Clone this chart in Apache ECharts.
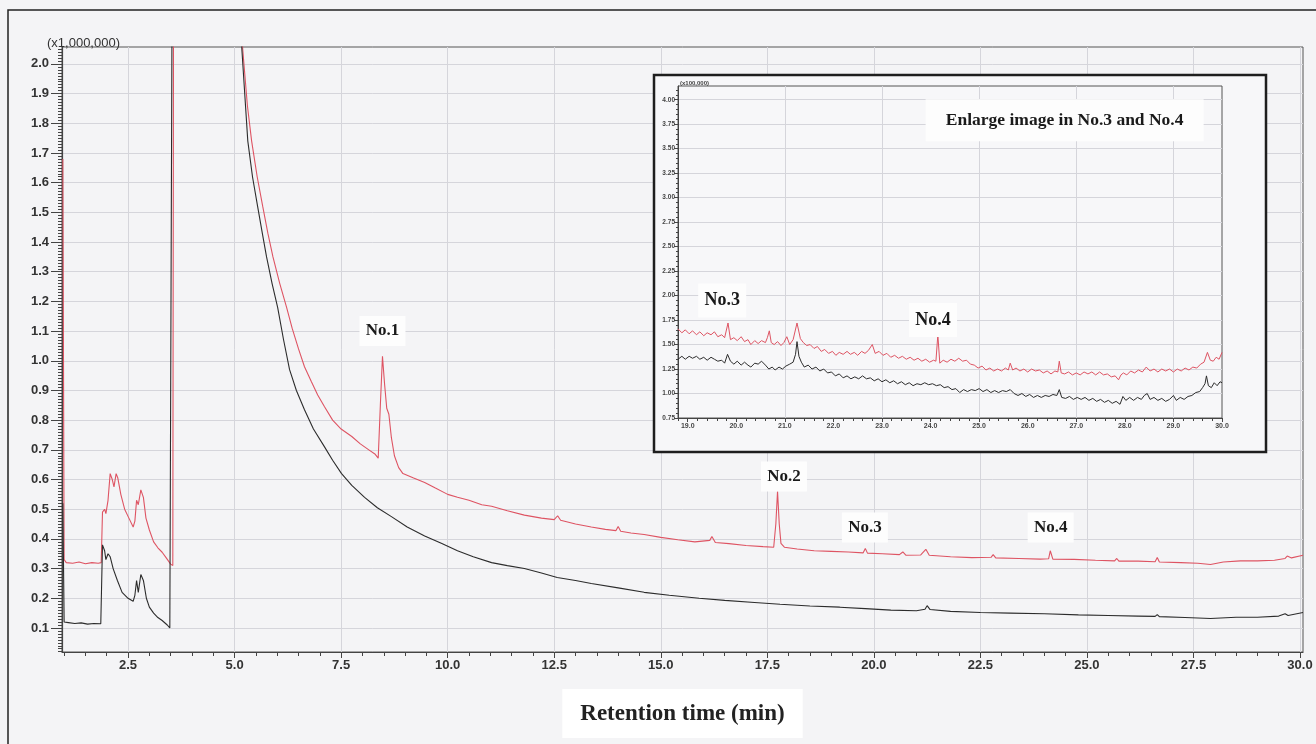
<!DOCTYPE html>
<html>
<head>
<meta charset="utf-8">
<title>Chromatogram</title>
<script src="https://cdn.jsdelivr.net/npm/echarts@6/dist/echarts.min.js"></script>
<style>
  html, body { margin: 0; padding: 0; background: #f4f4f6; }
  #chart { width: 1316px; height: 744px; }
</style>
</head>
<body>
<div id="chart"></div>
<script>
// main trace: retention time (min), intensity (x1,000,000)
const redTrace = [
  [0.97,1.68],[1.0,0.33],[1.05,0.32],[1.2,0.318],[1.35,0.322],[1.5,0.316],[1.65,0.32],[1.8,0.318],[1.87,0.32],
  [1.9,0.49],[1.95,0.50],[1.98,0.485],[2.03,0.53],[2.08,0.62],[2.13,0.60],[2.17,0.575],[2.22,0.62],[2.26,0.605],
  [2.33,0.55],[2.42,0.50],[2.52,0.47],[2.62,0.44],[2.66,0.46],[2.7,0.53],[2.74,0.515],[2.8,0.565],[2.86,0.54],
  [2.92,0.47],[3.0,0.43],[3.1,0.39],[3.2,0.37],[3.3,0.355],[3.4,0.335],[3.5,0.315],[3.55,0.31],[3.57,2.5],
  [5.05,2.5],[5.19,2.05],[5.3,1.86],[5.4,1.74],[5.53,1.62],[5.66,1.52],[5.78,1.43],[5.9,1.35],[6.06,1.26],
  [6.22,1.18],[6.35,1.11],[6.5,1.04],[6.64,0.98],[6.8,0.93],[6.95,0.885],[7.11,0.845],[7.3,0.80],[7.5,0.77],
  [7.75,0.745],[7.95,0.72],[8.15,0.70],[8.3,0.685],[8.37,0.672],[8.42,0.85],[8.47,1.015],[8.52,0.92],[8.57,0.84],
  [8.62,0.82],[8.68,0.74],[8.75,0.68],[8.85,0.64],[8.95,0.62],[9.2,0.605],[9.46,0.59],[9.7,0.572],[10.0,0.55],
  [10.23,0.54],[10.5,0.53],[10.8,0.515],[11.03,0.51],[11.4,0.495],[11.8,0.48],[12.2,0.47],[12.5,0.465],
  [12.58,0.478],[12.65,0.463],[13.0,0.45],[13.37,0.44],[13.7,0.432],[13.95,0.428],[14.0,0.442],[14.06,0.426],
  [14.3,0.42],[14.61,0.415],[15.0,0.405],[15.4,0.397],[15.8,0.39],[16.15,0.395],[16.2,0.408],[16.28,0.388],
  [16.6,0.384],[17.0,0.378],[17.4,0.374],[17.65,0.372],[17.7,0.45],[17.74,0.56],[17.78,0.45],[17.82,0.385],
  [17.9,0.372],[18.2,0.366],[18.6,0.36],[19.0,0.358],[19.4,0.356],[19.75,0.353],[19.8,0.368],[19.85,0.352],
  [20.2,0.35],[20.6,0.347],[20.68,0.356],[20.75,0.345],[21.1,0.346],[21.22,0.365],[21.3,0.345],[21.8,0.34],
  [22.3,0.337],[22.75,0.338],[22.8,0.347],[22.86,0.336],[23.4,0.334],[23.9,0.332],[24.1,0.333],[24.14,0.36],
  [24.2,0.332],[24.7,0.331],[25.2,0.328],[25.65,0.326],[25.7,0.334],[25.75,0.325],[26.2,0.325],[26.6,0.323],
  [26.65,0.337],[26.7,0.322],[27.2,0.32],[27.6,0.318],[27.9,0.314],[28.2,0.322],[28.6,0.326],[29.0,0.326],
  [29.4,0.328],[29.65,0.334],[29.7,0.342],[29.8,0.336],[30.07,0.345]
];
const blackTrace = [
  [0.97,0.52],[1.0,0.12],[1.1,0.118],[1.25,0.115],[1.4,0.117],[1.55,0.113],[1.7,0.115],[1.86,0.114],
  [1.9,0.38],[1.95,0.36],[1.98,0.33],[2.03,0.35],[2.08,0.34],[2.15,0.30],[2.25,0.26],[2.36,0.22],[2.5,0.20],
  [2.62,0.19],[2.66,0.21],[2.7,0.26],[2.74,0.22],[2.8,0.28],[2.86,0.26],[2.93,0.20],[3.0,0.17],[3.1,0.15],
  [3.2,0.135],[3.3,0.125],[3.42,0.11],[3.48,0.10],[3.52,0.105],[3.54,2.5],[5.05,2.5],[5.17,2.05],[5.31,1.74],
  [5.42,1.62],[5.54,1.52],[5.65,1.43],[5.75,1.35],[5.88,1.26],[6.01,1.18],[6.15,1.07],[6.29,0.97],[6.45,0.90],
  [6.64,0.835],[6.85,0.77],[7.11,0.71],[7.3,0.665],[7.51,0.62],[7.75,0.58],[8.05,0.54],[8.35,0.505],[8.68,0.475],
  [9.05,0.44],[9.46,0.41],[9.85,0.385],[10.23,0.36],[10.6,0.34],[11.03,0.32],[11.4,0.31],[11.8,0.30],[12.2,0.285],
  [12.57,0.27],[13.0,0.26],[13.37,0.25],[14.0,0.235],[14.61,0.22],[15.2,0.21],[15.9,0.20],[16.5,0.193],
  [17.2,0.186],[17.8,0.18],[18.5,0.174],[19.2,0.17],[19.8,0.165],[20.4,0.16],[21.0,0.158],[21.2,0.163],
  [21.25,0.175],[21.32,0.162],[21.8,0.156],[22.5,0.152],[23.2,0.15],[24.0,0.148],[24.8,0.144],[25.5,0.142],
  [26.2,0.14],[26.6,0.139],[26.65,0.145],[26.7,0.138],[27.3,0.135],[27.9,0.132],[28.5,0.136],[29.0,0.136],
  [29.5,0.14],[29.65,0.148],[29.72,0.142],[30.07,0.152]
];

// enlarged part 19-30 min, intensity (x100,000)
const insetRed = [
  [18.8,1.66],[18.88,1.62],[18.95,1.65],[19.03,1.61],[19.1,1.64],[19.18,1.60],[19.25,1.63],[19.33,1.59],[19.4,1.62],
  [19.48,1.60],[19.55,1.63],[19.62,1.58],[19.7,1.60],[19.76,1.57],[19.83,1.72],[19.88,1.55],[19.95,1.57],[20.02,1.54],
  [20.1,1.58],[20.17,1.53],[20.24,1.55],[20.3,1.50],[20.38,1.54],[20.45,1.51],[20.52,1.54],[20.6,1.52],[20.64,1.57],
  [20.68,1.64],[20.72,1.52],[20.78,1.50],[20.85,1.53],[20.92,1.49],[20.98,1.52],[21.04,1.58],[21.1,1.50],[21.17,1.55],
  [21.25,1.72],[21.32,1.56],[21.38,1.52],[21.45,1.49],[21.52,1.50],[21.6,1.46],[21.67,1.48],[21.75,1.43],[21.82,1.45],
  [21.9,1.41],[21.98,1.43],[22.05,1.39],[22.12,1.42],[22.2,1.40],[22.28,1.43],[22.35,1.40],[22.43,1.42],[22.5,1.39],
  [22.58,1.43],[22.65,1.41],[22.72,1.44],[22.8,1.50],[22.86,1.41],[22.94,1.43],[23.02,1.39],[23.1,1.41],[23.18,1.37],
  [23.26,1.39],[23.34,1.36],[23.42,1.38],[23.5,1.35],[23.58,1.37],[23.66,1.34],[23.74,1.36],[23.82,1.33],[23.9,1.35],
  [23.98,1.32],[24.06,1.34],[24.11,1.33],[24.15,1.60],[24.19,1.31],[24.26,1.34],[24.34,1.32],[24.42,1.35],[24.5,1.33],
  [24.58,1.36],[24.66,1.33],[24.74,1.34],[24.82,1.30],[24.9,1.29],[24.98,1.26],[25.06,1.28],[25.14,1.24],[25.22,1.26],
  [25.3,1.23],[25.38,1.25],[25.46,1.23],[25.54,1.26],[25.6,1.24],[25.64,1.31],[25.69,1.24],[25.76,1.26],[25.84,1.23],
  [25.92,1.25],[26.0,1.22],[26.08,1.25],[26.16,1.23],[26.24,1.24],[26.32,1.21],[26.4,1.23],[26.48,1.20],[26.56,1.23],
  [26.62,1.22],[26.65,1.33],[26.69,1.21],[26.76,1.20],[26.84,1.22],[26.92,1.19],[27.0,1.21],[27.08,1.19],[27.16,1.22],
  [27.24,1.20],[27.32,1.22],[27.4,1.19],[27.48,1.22],[27.56,1.19],[27.64,1.20],[27.72,1.17],[27.8,1.18],[27.87,1.14],
  [27.92,1.19],[27.97,1.21],[28.04,1.19],[28.12,1.23],[28.2,1.21],[28.28,1.24],[28.36,1.22],[28.44,1.27],[28.52,1.23],
  [28.6,1.25],[28.68,1.22],[28.76,1.25],[28.84,1.23],[28.92,1.25],[29.0,1.22],[29.08,1.25],[29.16,1.23],[29.24,1.26],
  [29.32,1.24],[29.4,1.27],[29.48,1.26],[29.56,1.30],[29.63,1.32],[29.7,1.42],[29.76,1.34],[29.82,1.33],[29.88,1.37],
  [29.94,1.35],[30.0,1.42]
];
const insetBlack = [
  [18.8,1.35],[18.88,1.38],[18.95,1.35],[19.03,1.38],[19.1,1.36],[19.18,1.38],[19.25,1.35],[19.33,1.37],[19.4,1.34],
  [19.48,1.37],[19.55,1.35],[19.62,1.33],[19.7,1.34],[19.76,1.31],[19.82,1.40],[19.88,1.33],[19.95,1.30],[20.02,1.33],
  [20.1,1.29],[20.17,1.32],[20.24,1.29],[20.3,1.27],[20.38,1.31],[20.45,1.30],[20.52,1.33],[20.6,1.29],[20.67,1.25],
  [20.74,1.27],[20.8,1.24],[20.88,1.27],[20.95,1.25],[21.02,1.28],[21.1,1.30],[21.17,1.32],[21.22,1.40],[21.25,1.53],
  [21.29,1.38],[21.34,1.32],[21.4,1.27],[21.48,1.29],[21.56,1.25],[21.64,1.27],[21.72,1.23],[21.8,1.25],[21.88,1.21],
  [21.96,1.22],[22.04,1.18],[22.12,1.20],[22.2,1.16],[22.28,1.18],[22.36,1.15],[22.44,1.17],[22.52,1.15],[22.6,1.18],
  [22.68,1.15],[22.76,1.16],[22.84,1.13],[22.92,1.15],[23.0,1.12],[23.08,1.14],[23.16,1.11],[23.24,1.13],[23.32,1.10],
  [23.4,1.12],[23.48,1.09],[23.56,1.11],[23.64,1.08],[23.72,1.10],[23.8,1.09],[23.88,1.11],[23.96,1.09],[24.04,1.10],
  [24.12,1.08],[24.2,1.09],[24.28,1.06],[24.36,1.07],[24.44,1.04],[24.52,1.05],[24.6,1.01],[24.68,1.04],[24.76,1.02],
  [24.84,1.04],[24.92,1.03],[25.0,1.05],[25.08,1.02],[25.16,1.04],[25.24,1.01],[25.32,1.03],[25.4,1.01],[25.48,1.03],
  [25.56,1.02],[25.64,1.04],[25.72,1.00],[25.8,0.98],[25.88,1.00],[25.96,0.97],[26.04,0.99],[26.12,0.96],[26.2,0.98],
  [26.28,0.96],[26.36,0.98],[26.44,0.97],[26.52,0.99],[26.6,0.98],[26.65,1.04],[26.7,0.96],[26.78,0.95],[26.86,0.97],
  [26.94,0.94],[27.02,0.96],[27.1,0.94],[27.18,0.96],[27.26,0.93],[27.34,0.95],[27.42,0.92],[27.5,0.94],[27.58,0.91],
  [27.66,0.93],[27.74,0.90],[27.82,0.92],[27.9,0.89],[27.96,0.97],[28.02,0.93],[28.1,0.96],[28.18,0.93],[28.26,0.96],
  [28.34,0.94],[28.4,0.98],[28.46,1.00],[28.52,0.94],[28.6,0.96],[28.68,0.93],[28.76,0.95],[28.84,0.92],[28.92,0.94],
  [29.0,0.98],[29.06,0.93],[29.14,0.96],[29.22,0.94],[29.3,0.97],[29.38,0.98],[29.46,1.01],[29.54,1.02],[29.6,1.06],
  [29.65,1.10],[29.68,1.18],[29.72,1.08],[29.78,1.06],[29.84,1.11],[29.9,1.08],[29.96,1.12],[30.0,1.11]
];

const mainXTicks = [2.5, 5.0, 7.5, 10.0, 12.5, 15.0, 17.5, 20.0, 22.5, 25.0, 27.5, 30.0];
const mainYTicks = [0.1, 0.2, 0.3, 0.4, 0.5, 0.6, 0.7, 0.8, 0.9, 1.0, 1.1, 1.2, 1.3, 1.4, 1.5, 1.6, 1.7, 1.8, 1.9, 2.0];
const insetXTicks = [19, 20, 21, 22, 23, 24, 25, 26, 27, 28, 29, 30];
const insetYTicks = [0.75, 1.00, 1.25, 1.50, 1.75, 2.00, 2.25, 2.50, 2.75, 3.00, 3.25, 3.50, 3.75, 4.00];
const insetXGrid = [21, 23, 25, 27, 29];

const RED = '#de5463';
const BLACK = '#2c2c2c';
const GRIDC = '#d5d5db';
const sans = 'Liberation Sans, Arial, sans-serif';
const serif = 'Liberation Serif, Times New Roman, serif';

function steps(from, to, d) {
  const out = [];
  for (let v = from; v <= to + 1e-9; v += d) out.push(+v.toFixed(3));
  return out;
}

// axis that only draws small ticks
function tickAxis(gridIndex, position, min, max, values, len, z) {
  return {
    type: 'value', gridIndex, position, min, max, z: z || 0,
    axisLine: { show: false }, axisLabel: { show: false }, splitLine: { show: false },
    axisTick: { show: true, customValues: values, length: len, lineStyle: { color: '#444', width: 1 } }
  };
}

const labelBox = (fontSize) => ({
  show: true, position: 'inside', color: '#1a1a1a',
  fontFamily: serif, fontWeight: 'bold', fontSize,
  formatter: p => p.name
});

const myChart = echarts.init(document.getElementById('chart'));

myChart.setOption({
  animation: false,
  backgroundColor: '#f4f4f6',
  grid: [
    { left: 62, top: 47, width: 1241, height: 605, show: true, borderColor: '#555', borderWidth: 1, backgroundColor: 'transparent' },
    { left: 678, top: 86, width: 544, height: 332, show: true, borderColor: '#555', borderWidth: 1, backgroundColor: 'transparent', z: 2 }
  ],
  xAxis: [
    {
      type: 'value', gridIndex: 0, position: 'bottom', min: 0.95, max: 30.07,
      axisLine: { show: true, lineStyle: { color: '#444', width: 1.2 } },
      axisTick: { show: true, customValues: mainXTicks, length: 6, lineStyle: { color: '#444' } },
      axisLabel: { customValues: mainXTicks, formatter: v => v.toFixed(1), color: '#333', fontFamily: sans, fontWeight: 'bold', fontSize: 13, margin: 7 },
      splitLine: { show: true, lineStyle: { color: GRIDC, width: 1 } },
      name: 'Retention time (min)', nameLocation: 'middle', nameGap: 37,
      nameTextStyle: { fontFamily: serif, fontWeight: 'bold', fontSize: 23, color: '#222', backgroundColor: '#ffffff', padding: [14, 18, 12, 18], verticalAlign: 'top' }
    },
    tickAxis(0, 'bottom', 0.95, 30.07, steps(1.0, 30.0, 0.5), 4),
    {
      type: 'value', gridIndex: 1, position: 'bottom', min: 18.8, max: 30.0, z: 3,
      axisLine: { show: true, lineStyle: { color: '#444', width: 1 } },
      axisTick: { show: true, customValues: insetXTicks, length: 4, lineStyle: { color: '#444' } },
      axisLabel: { customValues: insetXTicks, formatter: v => v.toFixed(1), color: '#444', fontFamily: sans, fontWeight: 'bold', fontSize: 7, margin: 5 },
      splitLine: { show: false }
    },
    tickAxis(1, 'bottom', 18.8, 30.0, steps(18.8, 30.0, 0.2), 3, 3),
    {
      type: 'value', gridIndex: 1, position: 'bottom', min: 18.8, max: 30.0, z: 2,
      axisLine: { show: false }, axisLabel: { show: false },
      axisTick: { show: false, customValues: insetXGrid },
      splitLine: { show: true, lineStyle: { color: GRIDC, width: 1 } }
    }
  ],
  yAxis: [
    {
      type: 'value', gridIndex: 0, position: 'left', min: 0.019, max: 2.057,
      axisLine: { show: true, lineStyle: { color: '#444', width: 1.2 } },
      axisTick: { show: true, customValues: mainYTicks, length: 11, lineStyle: { color: '#444' } },
      axisLabel: { customValues: mainYTicks, formatter: v => v.toFixed(1), color: '#333', fontFamily: sans, fontWeight: 'bold', fontSize: 13, margin: 13 },
      splitLine: { show: true, lineStyle: { color: GRIDC, width: 1 } }
    },
    tickAxis(0, 'left', 0.019, 2.057, steps(0.02, 2.05, 0.01), 4),
    {
      type: 'value', gridIndex: 1, position: 'left', min: 0.75, max: 4.14, z: 3,
      axisLine: { show: true, lineStyle: { color: '#444', width: 1 } },
      axisTick: { show: true, customValues: insetYTicks, length: 4, lineStyle: { color: '#444' } },
      axisLabel: { customValues: insetYTicks, formatter: v => v.toFixed(2), color: '#444', fontFamily: sans, fontWeight: 'bold', fontSize: 6.5, margin: 3 },
      splitLine: { show: true, lineStyle: { color: GRIDC, width: 1 } }
    },
    tickAxis(1, 'left', 0.75, 4.14, steps(0.8, 4.1, 0.05), 2, 3)
  ],
  graphic: [
    { type: 'rect', silent: true, z: 0, shape: { x: 8, y: 10, width: 1340, height: 760 }, style: { fill: 'none', stroke: '#222', lineWidth: 1.5 } },
    { type: 'rect', silent: true, z: 1, shape: { x: 654, y: 75, width: 612, height: 377 }, style: { fill: '#f7f7f9', stroke: '#1e1e1e', lineWidth: 2.5 } },
    { type: 'text', silent: true, z: 1, left: 47, top: 37, style: { text: '(x1,000,000)', font: '13px Liberation Sans, Arial, sans-serif', fill: '#333' } },
    { type: 'text', silent: true, z: 5, left: 680, top: 80, style: { text: '(x100,000)', font: 'bold 6px Liberation Sans, Arial, sans-serif', fill: '#444' } }
  ],
  series: [
    {
      type: 'line', xAxisIndex: 0, yAxisIndex: 0, data: redTrace, showSymbol: false, symbol: 'none', clip: true, z: 2,
      lineStyle: { color: RED, width: 1.1 }, itemStyle: { color: RED },
      markPoint: {
        symbol: 'rect', symbolSize: [46, 30], itemStyle: { color: '#fdfdfd' }, label: labelBox(17),
        data: [
          { name: 'No.1', coord: [8.47, 1.10] },
          { name: 'No.2', coord: [17.89, 0.61] },
          { name: 'No.3', coord: [19.79, 0.438] },
          { name: 'No.4', coord: [24.15, 0.438] }
        ]
      }
    },
    {
      type: 'line', xAxisIndex: 0, yAxisIndex: 0, data: blackTrace, showSymbol: false, symbol: 'none', clip: true, z: 2,
      lineStyle: { color: BLACK, width: 1.1 }, itemStyle: { color: BLACK }
    },
    {
      type: 'line', xAxisIndex: 2, yAxisIndex: 2, data: insetRed, showSymbol: false, symbol: 'none', clip: true, z: 4,
      lineStyle: { color: RED, width: 1 }, itemStyle: { color: RED },
      markPoint: {
        symbol: 'rect', symbolSize: [48, 34], itemStyle: { color: '#fdfdfd' }, label: labelBox(18),
        data: [
          { name: 'No.3', coord: [19.71, 1.95] },
          { name: 'No.4', coord: [24.05, 1.75] },
          { name: 'Enlarge image in No.3 and No.4', coord: [26.76, 3.79], symbolSize: [278, 42], label: labelBox(17.5) }
        ]
      }
    },
    {
      type: 'line', xAxisIndex: 2, yAxisIndex: 2, data: insetBlack, showSymbol: false, symbol: 'none', clip: true, z: 4,
      lineStyle: { color: BLACK, width: 1 }, itemStyle: { color: BLACK }
    }
  ]
});
</script>
</body>
</html>
